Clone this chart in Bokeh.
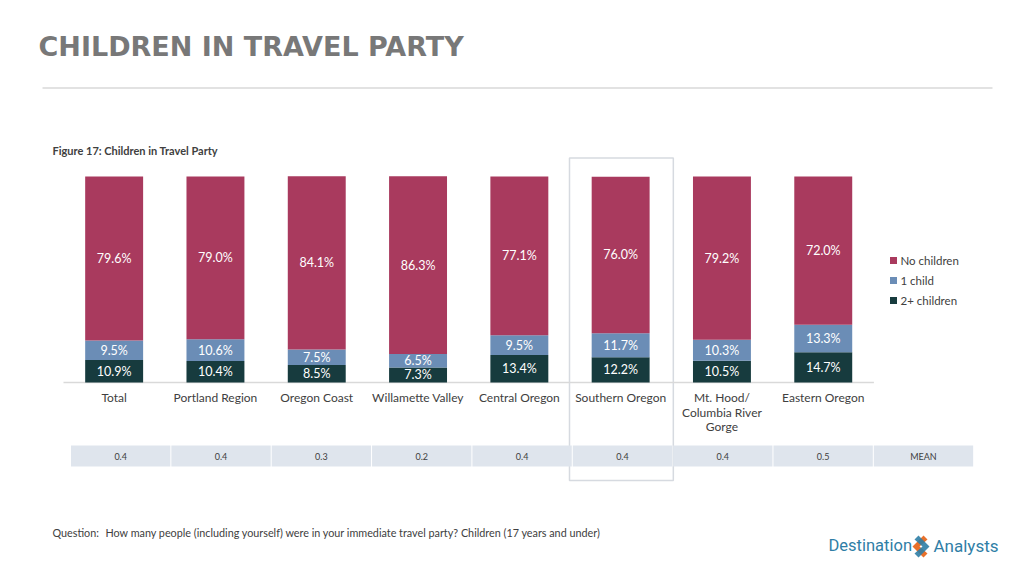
from bokeh.plotting import figure
from bokeh.models import Range1d, ColumnDataSource
from bokeh.core.properties import value
from bokeh.embed import file_html
from bokeh.resources import INLINE
import numpy as np

# ---------------- data ----------------
categories = ["Total", "Portland Region", "Oregon Coast", "Willamette Valley",
              "Central Oregon", "Southern Oregon", "Mt. Hood/\nColumbia River\nGorge",
              "Eastern Oregon"]
no_children = [79.6, 79.0, 84.1, 86.3, 77.1, 76.0, 79.2, 72.0]
one_child = [9.5, 10.6, 7.5, 6.5, 9.5, 11.7, 10.3, 13.3]
two_plus = [10.9, 10.4, 8.5, 7.3, 13.4, 12.2, 10.5, 14.7]
means = ["0.4", "0.4", "0.3", "0.2", "0.4", "0.4", "0.4", "0.5"]
mean_label = "MEAN"
series_names = ["No children", "1 child", "2+ children"]
highlight = "Southern Oregon"

title_text = "CHILDREN IN TRAVEL PARTY"
figure_text = "Figure 17: Children in Travel Party"
question_label = "Question:"
question_text = "How many people (including yourself) were in your immediate travel party? Children (17 years and under)"

# ---------------- style / layout ----------------
C_NO = "#A93A5E"
C_ONE = "#6B8DB6"
C_TWO = "#173B3E"
TXT = "#404040"
FONT = "Lato"

W, H = 1008, 560
PAGE_L, PAGE_T = 0, 0
SLOT_L, SLOT_W = 63.0, 101.3      # x of first slot, slot width
BASE_Y, TOP_Y = 382.0, 176.0      # y of 0% and 100%

idx_start = (PAGE_L - SLOT_L) / SLOT_W - 0.5
idx_end = (PAGE_L + W - SLOT_L) / SLOT_W - 0.5
pct_start = (BASE_Y - (PAGE_T + H)) / (BASE_Y - TOP_Y) * 100
pct_end = (BASE_Y - PAGE_T) / (BASE_Y - TOP_Y) * 100

p = figure(width=W, height=H,
           x_range=Range1d(PAGE_L, PAGE_L + W),
           y_range=Range1d(PAGE_T + H, PAGE_T),
           x_axis_location=None, y_axis_location=None,
           toolbar_location=None, output_backend="svg",
           min_border=0, outline_line_color=None)
p.extra_x_ranges = {"idx": Range1d(idx_start, idx_end)}
p.extra_y_ranges = {"pct": Range1d(pct_start, pct_end)}
p.xgrid.visible = False
p.ygrid.visible = False
p.background_fill_color = "white"
p.border_fill_color = "white"

n = len(categories)
idx = np.arange(n)

# title + divider
p.text(x=[38], y=[46], text=[title_text], text_font=value("DejaVu Sans"),
       text_font_size="27px", text_font_style="bold", text_color="#787878",
       text_baseline="middle", text_align="left")
p.segment(x0=[42], y0=[87.5], x1=[992], y1=[87.5], line_color="#D9D9D9", line_width=1.5)

p.text(x=[52], y=[150], text=[figure_text], text_font=value(FONT),
       text_font_size="11px", text_font_style="bold", text_color=TXT,
       text_baseline="middle")

# highlight box
h = categories.index(highlight)
p.quad(left=[h - 0.505], right=[h + 0.52], top=[157.5], bottom=[480],
       fill_color=None, line_color="#D6DAE0", line_width=1.5,
       x_range_name="idx")

# baseline
p.segment(x0=[-0.5], y0=[0], x1=[n - 0.5], y1=[0], line_color="#D9D9D9",
          line_width=1.5, x_range_name="idx", y_range_name="pct")

# stacked bars
src = ColumnDataSource(dict(idx=idx, two=two_plus, one=one_child, none=no_children))
p.vbar_stack(["two", "one", "none"], x="idx", width=0.572, source=src,
             color=[C_TWO, C_ONE, C_NO], line_width=0,
             x_range_name="idx", y_range_name="pct")

two = np.array(two_plus)
one = np.array(one_child)
nob = np.array(no_children)
lab_x = np.concatenate([idx, idx, idx])
lab_y = np.concatenate([two / 2, two + one / 2, two + one + nob / 2])
lab_t = ["%.1f%%" % v for v in np.concatenate([two, one, nob])]
p.text(x=lab_x, y=lab_y, text=lab_t, text_font=value(FONT),
       text_font_size="12.5px", text_color="white", text_align="center",
       text_baseline="middle", x_range_name="idx", y_range_name="pct")

# category labels
p.text(x=idx, y=[389.5] * n, text=categories, text_font=value(FONT),
       text_font_size="12px", text_color=TXT, text_align="center",
       text_baseline="top", text_line_height=0.97, x_range_name="idx")

# legend
leg_y = [260, 280, 300]
p.rect(x=[893] * 3, y=leg_y, width=7, height=7,
       fill_color=[C_NO, C_ONE, C_TWO], line_color=None)
p.text(x=[900] * 3, y=leg_y, text=series_names, text_font=value(FONT),
       text_font_size="11.5px", text_color=TXT, text_baseline="middle")

# mean table
cells = means + [mean_label]
cell_w = 100.35
cl = 70 + cell_w * np.arange(len(cells))
p.quad(left=cl + 0.5, right=cl + cell_w - 0.5, top=[445] * len(cells),
       bottom=[466] * len(cells), fill_color="#DFE5ED", line_color=None)
p.text(x=cl + cell_w / 2, y=[456] * len(cells), text=cells, text_font=value(FONT),
       text_font_size="9px", text_color=TXT, text_align="center",
       text_baseline="middle")

# footer
p.text(x=[52, 105], y=[532, 532], text=[question_label, question_text],
       text_font=value(FONT), text_font_size="10.8px", text_color=TXT,
       text_baseline="middle")

# logo
p.text(x=[828], y=[545], text=["Destination"], text_font=value("Roboto"),
       text_font_size="16.5px", text_color="#2F7EA6", text_baseline="middle")
p.text(x=[933], y=[545], text=["Analysts"], text_font=value("Roboto"),
       text_font_size="17px", text_color="#2F7EA6", text_baseline="middle")
p.patch(x=[923, 912, 923, 927, 919, 927], y=[535, 546, 557, 553, 546, 539],
        fill_color="#E8702A", line_color=None)
p.patch(x=[918, 929, 918, 914, 922, 914], y=[535, 546, 557, 553, 546, 539],
        fill_color="#2F7EA6", line_color=None, fill_alpha=0.9)

open("out.html", "w").write(file_html(p, INLINE))
